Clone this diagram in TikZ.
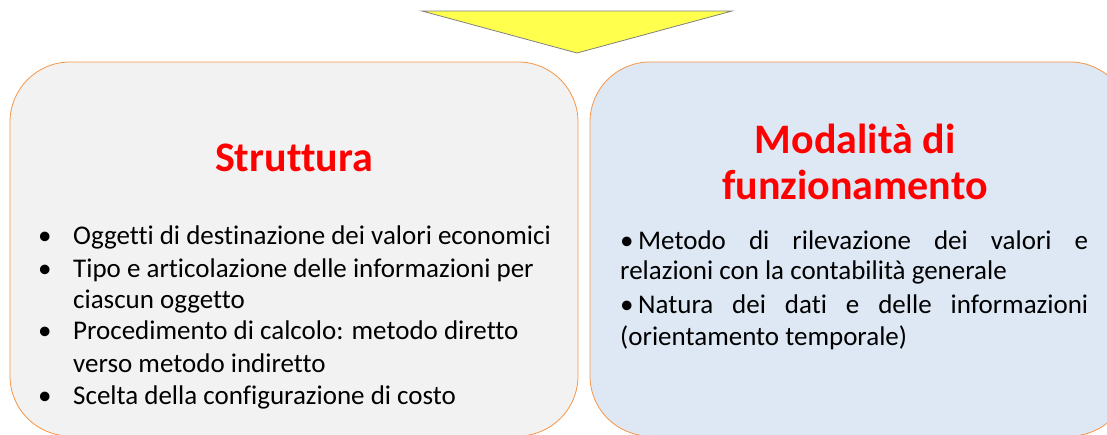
\documentclass[tikz,border=0pt]{standalone}
\usepackage{fontspec}
\setmainfont{Carlito}[Ligatures=NoCommon]
\definecolor{boxline}{HTML}{F79646}
\definecolor{leftfill}{HTML}{F2F2F2}
\definecolor{rightfill}{HTML}{DEE8F4}
\definecolor{arrowfill}{HTML}{FFFF4D}
\definecolor{titlered}{HTML}{FF0000}
\tikzset{
  panel/.style={draw=boxline, line width=0.8pt, rounded corners=60pt},
  title/.style={text=titlered, font=\fontsize{42}{46}\selectfont\bfseries, align=center},
  item/.style={anchor=base west, inner sep=0pt, font=\fontsize{27}{32}\selectfont},
}
\begin{document}
\begin{tikzpicture}[x=1pt, y=-1pt]
    \useasboundingbox (0,0) rectangle (1107,434);
    \clip (0,0) rectangle (1107,434);
    % arrow on top
    \draw[fill=arrowfill, draw=gray, line width=0.8pt] (422,11) -- (732,11) -- (577,53) -- cycle;
    % the two panels
    \draw[panel, fill=leftfill] (10,62) rectangle (578,436);
    \draw[panel, fill=rightfill] (590,62) rectangle (1130,436);
    % titles
    \node[title] (struttura) at (294,158) {Struttura};
    \node[title] (modalita) at (855,162) {Modalità di\\funzionamento};
    % left list
    \foreach \y/\b/\t [count=\i] in {
        244/1/Oggetti di destinazione dei valori economici,
        277/1/Tipo e articolazione delle informazioni per,
        308/0/ciascun oggetto,
        339/1/Procedimento di calcolo: metodo diretto,
        372/0/verso metodo indiretto,
        404/1/Scelta della configurazione di costo}
    {
        \node[item] (riga\i) at (73,\y) {\t};
        \ifnum\b=1 \node[item] (punto\i) at (38,\y) {•}; \fi
    }
    % right text, justified lines
    \node[item] (metodo) at (620,249) {\makebox[468pt][s]{\hbox{•\,Metodo} di rilevazione dei valori e}};
    \node[item] (relazioni) at (620,279) {relazioni con la contabilità generale};
    \node[item] (natura) at (620,313) {\makebox[468pt][s]{\hbox{•\,Natura} dei dati e delle informazioni}};
    \node[item] (orient) at (620,345) {(orientamento temporale)};
\end{tikzpicture}
\end{document}
